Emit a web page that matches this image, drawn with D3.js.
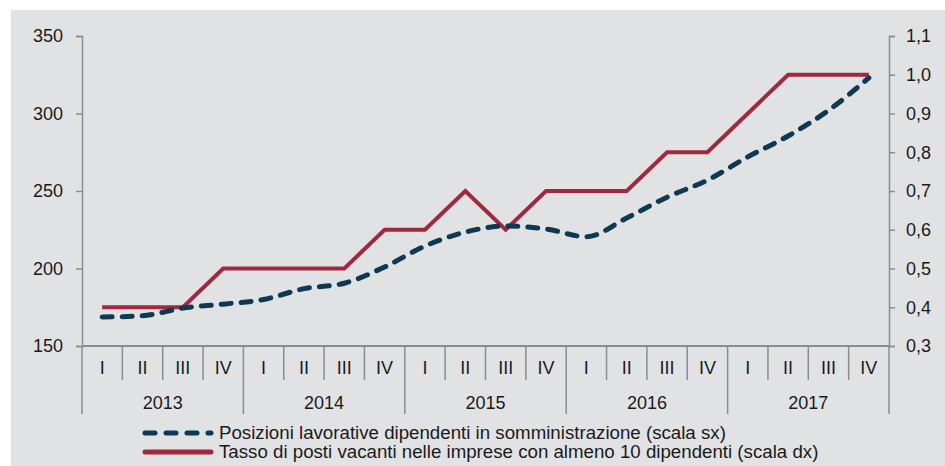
<!DOCTYPE html>
<html>
<head>
<meta charset="utf-8">
<script src="https://cdn.jsdelivr.net/npm/d3@7"></script>
<style>
  body { margin: 0; background: #fff; }
  svg { display: block; font-family: "Liberation Sans", Arial, sans-serif; }
</style>
</head>
<body>
<div id="chart"></div>
<script>
// Data
const years = ["2013", "2014", "2015", "2016", "2017"];
const quarters = ["I", "II", "III", "IV"];
// Posizioni lavorative dipendenti in somministrazione (scala sx)
const posizioni = [168.7, 169.5, 174.5, 177, 180, 187, 190.5, 201, 214.5, 223.5, 227.4, 225.5,
                   220.5, 232.6, 246, 257, 272, 285.5, 302, 323];
// Tasso di posti vacanti (scala dx)
const tasso = [0.4, 0.4, 0.4, 0.5, 0.5, 0.5, 0.5, 0.6, 0.6, 0.7, 0.6, 0.7,
               0.7, 0.7, 0.8, 0.8, 0.9, 1.0, 1.0, 1.0];
const leftTicks = [150, 200, 250, 300, 350];
const rightTicks = [0.3, 0.4, 0.5, 0.6, 0.7, 0.8, 0.9, 1.0, 1.1];
const legendLabels = [
  "Posizioni lavorative dipendenti in somministrazione (scala sx)",
  "Tasso di posti vacanti nelle imprese con almeno 10 dipendenti (scala dx)"
];

const W = 945, H = 466;
const margin = { top: 36, right: 56, bottom: 120, left: 82 };
const width = W - margin.left - margin.right,
      height = H - margin.top - margin.bottom;

const keys = [];
years.forEach(y => quarters.forEach(q => keys.push(y + "-" + q)));

const svg = d3.select("#chart").append("svg")
  .attr("width", W).attr("height", H);

// grey panel
svg.append("rect")
  .attr("x", 11).attr("y", 10)
  .attr("width", W - 11).attr("height", H - 10)
  .attr("fill", "#e1e2e4");

const g = svg.append("g")
  .attr("transform", `translate(${margin.left},${margin.top})`);

const x = d3.scaleBand().domain(keys).range([0, width]);
const yL = d3.scaleLinear().domain([150, 350]).range([height, 0]);
const yR = d3.scaleLinear().domain([0.3, 1.1]).range([height, 0]);

const axisColor = "#8c8c8c";
const textColor = "#1a1a1a";

// left axis
const gl = g.append("g")
  .call(d3.axisLeft(yL).tickValues(leftTicks).tickSize(6).tickPadding(13).tickFormat(d3.format("d")));
// right axis
const fmtComma = d => d3.format(".1f")(d).replace(".", ",");
const gr = g.append("g")
  .attr("transform", `translate(${width},0)`)
  .call(d3.axisRight(yR).tickValues(rightTicks).tickSize(6).tickPadding(11).tickFormat(fmtComma));

[gl, gr].forEach(a => {
  a.selectAll("path, line").attr("stroke", axisColor).attr("stroke-width", 1.5);
  a.selectAll("text").attr("fill", textColor).style("font-size", "18px");
});

// bottom axis line
g.append("line")
  .attr("x1", 0).attr("x2", width)
  .attr("y1", height).attr("y2", height)
  .attr("stroke", axisColor).attr("stroke-width", 2);

// quarter separators
keys.forEach((k, i) => {
  if (i === 0) return;
  const isYear = i % 4 === 0;
  g.append("line")
    .attr("x1", x(k)).attr("x2", x(k))
    .attr("y1", height).attr("y2", height + (isYear ? 68 : 34))
    .attr("stroke", axisColor).attr("stroke-width", 1.5);
});
[0, width].forEach(xx => {
  g.append("line")
    .attr("x1", xx).attr("x2", xx)
    .attr("y1", height).attr("y2", height + 68)
    .attr("stroke", axisColor).attr("stroke-width", 1.5);
});

// quarter labels
g.selectAll(".qlab")
  .data(keys)
  .join("text")
    .attr("class", "qlab")
    .attr("x", d => x(d) + x.bandwidth() / 2)
    .attr("y", height + 28)
    .attr("text-anchor", "middle")
    .attr("fill", textColor)
    .style("font-size", "18px")
    .text(d => d.split("-")[1]);

// year labels
g.selectAll(".ylab")
  .data(years)
  .join("text")
    .attr("class", "ylab")
    .attr("x", (d, i) => x(keys[i * 4]) + x.bandwidth() * 2)
    .attr("y", height + 63)
    .attr("text-anchor", "middle")
    .attr("fill", textColor)
    .style("font-size", "18px")
    .text(d => d);

// lines
const cx = (d, i) => x(keys[i]) + x.bandwidth() / 2;
const dashColor = "#0d3a52";
const redColor = "#a3283f";

g.append("path")
  .datum(tasso)
  .attr("fill", "none")
  .attr("stroke", redColor)
  .attr("stroke-width", 4)
  .attr("d", d3.line().x(cx).y(d => yR(d)));

g.append("path")
  .datum(posizioni)
  .attr("fill", "none")
  .attr("stroke", dashColor)
  .attr("stroke-width", 5)
  .attr("stroke-linecap", "round")
  .attr("stroke-dasharray", "10,10")
  .attr("d", d3.line().x(cx).y(d => yL(d)).curve(d3.curveMonotoneX));

// legend
const legend = svg.append("g");
const legendY = [433, 452];
legend.append("line")
  .attr("x1", 145).attr("x2", 211)
  .attr("y1", legendY[0]).attr("y2", legendY[0])
  .attr("stroke", dashColor).attr("stroke-width", 5)
  .attr("stroke-linecap", "round").attr("stroke-dasharray", "10,11");
legend.append("line")
  .attr("x1", 145).attr("x2", 211)
  .attr("y1", legendY[1]).attr("y2", legendY[1])
  .attr("stroke", redColor).attr("stroke-width", 5)
  .attr("stroke-linecap", "round");
legend.selectAll("text")
  .data(legendLabels)
  .join("text")
    .attr("x", 219)
    .attr("y", (d, i) => legendY[i] + 6)
    .attr("fill", textColor)
    .style("font-size", "18.7px")
    .text(d => d);
</script>
</body>
</html>
